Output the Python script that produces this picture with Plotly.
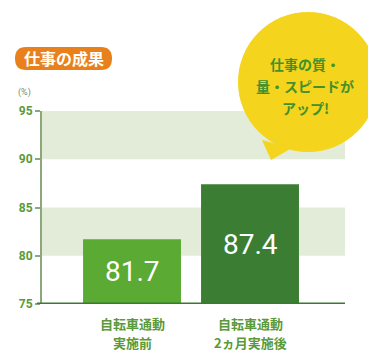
import plotly.graph_objects as go

# Work performance before / after two months of bicycle commuting
categories = [["自転車通動", "実施前"], ["自転車通動", "2ヵ月実施後"]]
values = [81.7, 87.4]
bar_colors = ["#5aaa34", "#3b7e33"]
y_ticks = [75, 80, 85, 90, 95]
bands = [(80, 85), (90, 95)]
y_min, y_max = 75, 95
bubble_lines = ["仕事の質・", "量・スピードが", "アップ!"]

W, H = 368, 352
L, R, T, B = 42, 23, 111, 48
pw, ph = W - L - R, H - T - B


def px(x):
    return (x - L) / pw


def py(y):
    return (H - B - y) / ph


GREEN_TXT = "#5a9a3a"
JP = "Noto Sans CJK JP"

fig = go.Figure(go.Bar(
    x=[0, 1],
    y=values,
    width=0.83,
    marker=dict(color=bar_colors, line=dict(width=0)),
    hoverinfo="skip",
))

shapes = []
for lo, hi in bands:
    shapes.append(dict(type="rect", xref="paper", yref="y", x0=0, x1=1, y0=lo, y1=hi,
                       fillcolor="#e3ecd9", line=dict(width=0), layer="below"))
# baseline
shapes.append(dict(type="line", xref="paper", yref="y", x0=px(37), x1=1, y0=y_min, y1=y_min,
                   line=dict(color="#3b7a2e", width=3), layer="above"))
# title pill
shapes.append(dict(type="path", xref="paper", yref="paper",
                   path=(f"M {px(26)},{py(47)} L {px(101)},{py(47)} "
                         f"Q {px(112)},{py(47)} {px(112)},{py(58.5)} "
                         f"Q {px(112)},{py(70)} {px(101)},{py(70)} "
                         f"L {px(26)},{py(70)} Q {px(15)},{py(70)} {px(15)},{py(58.5)} "
                         f"Q {px(15)},{py(47)} {px(26)},{py(47)} Z"),
                   fillcolor="#e8811c", line=dict(width=0), layer="above"))
# speech bubble
cx, cy, r = 308, 82, 70
shapes.append(dict(type="circle", xref="paper", yref="paper",
                   x0=px(cx - r), x1=px(cx + r), y0=py(cy + r), y1=py(cy - r),
                   fillcolor="#f4d41c", line=dict(width=0), layer="above"))
shapes.append(dict(type="path", xref="paper", yref="paper",
                   path=f"M {px(262)},{py(140)} L {px(271)},{py(160)} L {px(292)},{py(148)} Z",
                   fillcolor="#f4d41c", line=dict(width=0), layer="above"))

annotations = [
    dict(text="仕事の成果", xref="paper", yref="paper", x=px(63.5), y=py(58.5),
         xanchor="center", yanchor="middle", showarrow=False,
         font=dict(family=JP, size=16, color="white", weight="bold")),
    dict(text="(%)", xref="paper", yref="paper", x=px(24), y=py(92),
         xanchor="center", yanchor="middle", showarrow=False,
         font=dict(family="Roboto", size=9, color="#7a8a6a")),
]
for j, line in enumerate(bubble_lines):
    annotations.append(dict(text=line, xref="paper", yref="paper",
                            x=px(305), y=py(64 + 22 * j), xanchor="center", yanchor="middle",
                            showarrow=False,
                            font=dict(family=JP, size=14, color="#43902c", weight="bold")))

# value labels centred in the visible part of each bar
for i, v in enumerate(values):
    annotations.append(dict(text=f"{v:.1f}", x=i, y=(y_min + v) / 2, xref="x", yref="y",
                            xanchor="center", yanchor="middle", showarrow=False,
                            font=dict(color="white", size=28, family="Roboto")))

# two-line category labels under the bars
for i, lines in enumerate(categories):
    for j, line in enumerate(lines):
        annotations.append(dict(text=line, x=i, y=py(323 + 19 * j), xref="x", yref="paper",
                                xanchor="center", yanchor="middle", showarrow=False,
                                borderpad=0,
                                font=dict(family=JP, size=13, color=GREEN_TXT, weight="bold")))

fig.update_layout(
    width=W, height=H,
    margin=dict(l=L, r=R, t=T, b=B),
    paper_bgcolor="white", plot_bgcolor="white",
    showlegend=False,
    shapes=shapes,
    annotations=annotations,
    xaxis=dict(range=[-0.763, 1.805], showticklabels=False,
               showline=False, showgrid=False, zeroline=False, ticks=""),
    yaxis=dict(range=[y_min, y_max], tickvals=y_ticks, showgrid=False, zeroline=False,
               showline=True, linecolor="#8ba77b", linewidth=2,
               ticks="outside", ticklen=5, tickcolor="#8ba77b", tickwidth=1.5,
               tickfont=dict(family="Roboto", size=12, color=GREEN_TXT, weight="bold")),
)

fig.write_html("out.html")
